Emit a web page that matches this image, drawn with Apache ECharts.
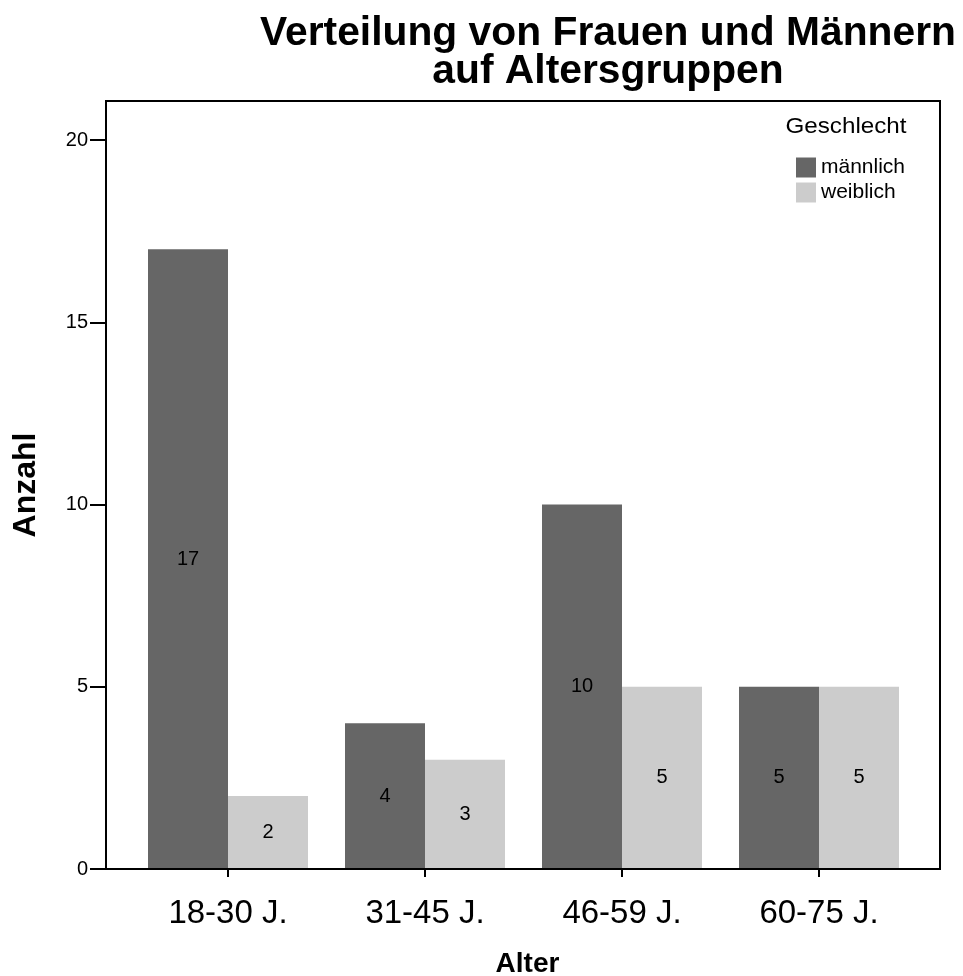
<!DOCTYPE html>
<html>
<head>
<meta charset="utf-8">
<script src="https://cdn.jsdelivr.net/npm/echarts@6/dist/echarts.min.js"></script>
<style>html,body{margin:0;padding:0;background:#fff;}#c{width:963px;height:976px;}</style>
</head>
<body>
<div id="c"></div>
<script>
var categories = ['18-30 J.', '31-45 J.', '46-59 J.', '60-75 J.'];
var maleValues = [17, 4, 10, 5];
var femaleValues = [2, 3, 5, 5];
var seriesNames = ['männlich', 'weiblich'];
var yTicks = [0, 5, 10, 15, 20];
var yMax = 21.07;

var FONT = 'Liberation Sans, Arial, Helvetica, sans-serif';
var chart = echarts.init(document.getElementById('c'), null, {renderer: 'canvas'});
var labelStyle = {show: true, position: 'inside', color: '#000', fontSize: 20, fontFamily: FONT};
chart.setOption({
  animation: false,
  backgroundColor: '#fff',
  textStyle: {fontFamily: FONT},
  grid: [
    {left: 106, top: 101, width: 834, height: 768, show: true, borderColor: '#000', borderWidth: 2, backgroundColor: 'transparent', z: 5, containLabel: false, outerBoundsMode: 'none'},
    {left: 129.5, top: 101, width: 788, height: 768, containLabel: false, outerBoundsMode: 'none'}
  ],
  xAxis: [
    {type: 'value', gridIndex: 0, show: false, min: 0, max: 1},
    {type: 'category', gridIndex: 1, data: categories,
     axisLine: {show: false},
     axisTick: {show: true, alignWithLabel: true, length: 8, lineStyle: {color: '#000', width: 2}},
     axisLabel: {color: '#000', fontSize: 33, margin: 28, fontFamily: FONT},
     name: 'Alter', nameLocation: 'middle', nameGap: 81,
     nameTextStyle: {color: '#000', fontSize: 28, fontWeight: 'bold', fontFamily: FONT, padding: [0, 0, 0, 8]}}
  ],
  yAxis: [
    {type: 'value', gridIndex: 0, min: 0, max: yMax,
     axisLine: {show: true, lineStyle: {color: '#000', width: 2}},
     axisTick: {show: true, length: 16, customValues: yTicks, lineStyle: {color: '#000', width: 2}},
     axisLabel: {color: '#000', fontSize: 20, margin: 18, customValues: yTicks, fontFamily: FONT},
     splitLine: {show: false},
     name: 'Anzahl', nameLocation: 'middle', nameGap: 64, nameRotate: 90,
     nameTextStyle: {color: '#000', fontSize: 32, fontWeight: 'bold', fontFamily: FONT}},
    {type: 'value', gridIndex: 1, min: 0, max: yMax, show: false}
  ],
  legend: {
    orient: 'vertical', left: 796, top: 157, itemWidth: 20, itemHeight: 20, itemGap: 4, padding: 0,
    icon: 'rect', data: seriesNames,
    textStyle: {color: '#000', fontSize: 21, fontFamily: FONT}
  },
  graphic: [
    {type: 'text', x: 608, y: 15, scaleX: 1.02, style: {text: 'Verteilung von Frauen und Männern\nauf Altersgruppen', align: 'center', verticalAlign: 'top', fontSize: 40, lineHeight: 38, fontWeight: 'bold', fontFamily: FONT, fill: '#000'}},
    {type: 'text', x: 846, y: 127, scaleX: 1.1, style: {text: 'Geschlecht', align: 'center', verticalAlign: 'middle', fontSize: 22, fontFamily: FONT, fill: '#000'}}
  ],
  series: [
    {name: seriesNames[0], type: 'bar', xAxisIndex: 1, yAxisIndex: 1, data: maleValues, barWidth: 80, barGap: '0%',
     itemStyle: {color: '#666666'}, label: labelStyle},
    {name: seriesNames[1], type: 'bar', xAxisIndex: 1, yAxisIndex: 1, data: femaleValues, barWidth: 80, barGap: '0%',
     itemStyle: {color: '#cccccc'}, label: labelStyle}
  ]
});
</script>
</body>
</html>
